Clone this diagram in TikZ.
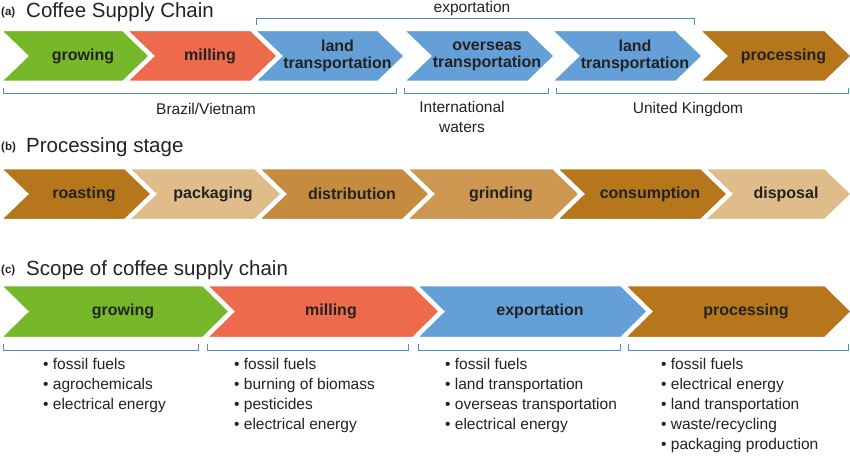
\documentclass[tikz,border=0pt]{standalone}
\usepackage{fontspec}
\setmainfont{Liberation Sans}
\definecolor{cgreen}{HTML}{77B82A}
\definecolor{cred}{HTML}{EE6A4D}
\definecolor{cblue}{HTML}{659FD7}
\definecolor{cbrown}{HTML}{B5761C}
\definecolor{cmed}{HTML}{C58B3E}
\definecolor{cmed2}{HTML}{CE9751}
\definecolor{ctan}{HTML}{E0BC8A}
\definecolor{cline}{HTML}{4A8FD0}
\definecolor{ctext}{HTML}{222222}
\newcommand{\chev}[6]{% L R top bot colour label
  \filldraw[fill=#5,draw=white,line width=2.5pt,line join=miter]
    (#1,#3) -- ({#2-27},#3) -- (#2,{(#3+#4)/2}) -- ({#2-27},#4) -- (#1,#4) -- ({#1+27},{(#3+#4)/2}) -- cycle;
  \node[lab,align=center] at ({(#1+#2)/2+8},{(#3+#4)/2}) {#6};}
\newcommand{\brk}[3]{\draw[brk] (#1,{#3-6}) -- (#1,#3) -- (#2,#3) -- (#2,{#3-6});}
\newcommand{\brku}[3]{\draw[brk] (#1,{#3+6}) -- (#1,#3) -- (#2,#3) -- (#2,{#3+6});}
\begin{document}
\begin{tikzpicture}[x=1pt,y=-1pt,
  lab/.style={font=\fontsize{16}{17}\selectfont\bfseries,text=ctext,inner sep=0pt},
  txt/.style={font=\fontsize{15.5}{20}\selectfont,text=ctext,inner sep=0pt},
  ttl/.style={font=\fontsize{20.5}{21}\selectfont,text=ctext,inner sep=0pt,anchor=west},
  tag/.style={font=\fontsize{11.5}{12}\selectfont\bfseries,text=ctext,inner sep=0pt,anchor=west},
  brk/.style={draw=cline,line width=1pt},
  bl/.style={txt,anchor=north west,align=left}]
\useasboundingbox (0,0) rectangle (850,457);
% (a)
\node[tag] (ta) at (1,13) {(a)};
\node[ttl] (tta) at (26,12) {Coffee Supply Chain};
\chev{0}{150}{30}{82}{cgreen}{growing}
\chev{126}{278}{30}{82}{cred}{milling}
\chev{254}{405}{30}{82}{cblue}{land\\[0pt]transportation}
\chev{403}{555}{30}{82}{cblue}{overseas\\[0pt]transportation}
\chev{551}{703}{30}{82}{cblue}{land\\[0pt]transportation}
\chev{699}{852}{30}{82}{cbrown}{processing}
\brku{256}{694}{19}
\node[txt] (ex) at (472,8) {exportation};
\brk{3}{396}{94}
\brk{404}{548}{94}
\brk{556}{848}{94}
\node[txt] (bv) at (206,109) {Brazil/Vietnam};
\node[txt,align=center] (iw) at (462,117) {International\\waters};
\node[txt] (uk) at (688,109) {United Kingdom};
% (b)
\node[tag] (tb) at (1,148) {(b)};
\node[ttl] (ttb) at (26,147) {Processing stage};
\chev{0}{152}{168}{220}{cbrown}{roasting}
\chev{128}{282}{168}{220}{ctan}{packaging}
\chev{258}{430}{168}{220}{cmed}{distribution}
\chev{406}{580}{168}{220}{cmed2}{grinding}
\chev{556}{728}{168}{220}{cbrown}{consumption}
\chev{704}{852}{168}{220}{ctan}{disposal}
% (c)
\node[tag] (tc) at (1,271) {(c)};
\node[ttl] (ttc) at (26,270) {Scope of coffee supply chain};
\chev{0}{230}{285}{338}{cgreen}{growing}
\chev{206}{440}{285}{338}{cred}{milling}
\chev{416}{648}{285}{338}{cblue}{exportation}
\chev{624}{852}{285}{338}{cbrown}{processing}
\brk{3}{198}{350}
\brk{207}{408}{350}
\brk{418}{620}{350}
\brk{628}{848}{350}
\node[bl] (l1) at (43,358) {• fossil fuels\\• agrochemicals\\• electrical energy};
\node[bl] (l2) at (234,358) {• fossil fuels\\• burning of biomass\\• pesticides\\• electrical energy};
\node[bl] (l3) at (445,358) {• fossil fuels\\• land transportation\\• overseas transportation\\• electrical energy};
\node[bl] (l4) at (661,358) {• fossil fuels\\• electrical energy\\• land transportation\\• waste/recycling\\• packaging production};
\end{tikzpicture}
\end{document}
